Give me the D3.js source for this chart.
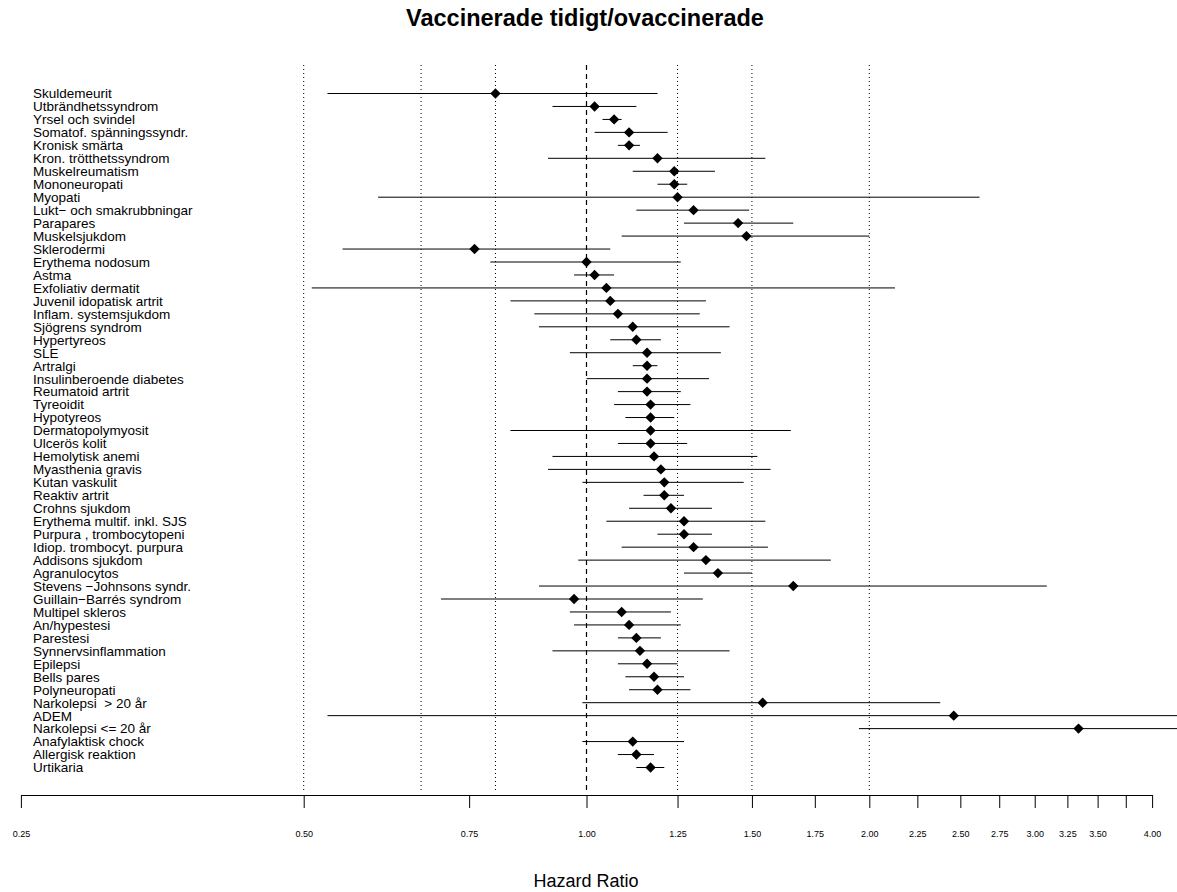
<!DOCTYPE html>
<html>
<head>
<meta charset="utf-8">
<script src="https://cdn.jsdelivr.net/npm/d3@7"></script>
<style>
  html, body { margin: 0; padding: 0; background: #fff; }
  svg { display: block; font-family: "Liberation Sans", Arial, sans-serif; }
  .row-label { white-space: pre; }
</style>
</head>
<body>
<svg id="chart" width="1177" height="892"></svg>
<script>
// Outcomes, top to bottom
const outcomes = [
  "Skuldemeurit", "Utbrändhetssyndrom", "Yrsel och svindel", "Somatof. spänningssyndr.",
  "Kronisk smärta", "Kron. trötthetssyndrom", "Muskelreumatism", "Mononeuropati",
  "Myopati", "Lukt− och smakrubbningar", "Parapares", "Muskelsjukdom", "Sklerodermi",
  "Erythema nodosum", "Astma", "Exfoliativ dermatit", "Juvenil idopatisk artrit",
  "Inflam. systemsjukdom", "Sjögrens syndrom", "Hypertyreos", "SLE", "Artralgi",
  "Insulinberoende diabetes", "Reumatoid artrit", "Tyreoidit", "Hypotyreos",
  "Dermatopolymyosit", "Ulcerös kolit", "Hemolytisk anemi", "Myasthenia gravis",
  "Kutan vaskulit", "Reaktiv artrit", "Crohns sjukdom", "Erythema multif. inkl. SJS",
  "Purpura , trombocytopeni", "Idiop. trombocyt. purpura", "Addisons sjukdom",
  "Agranulocytos", "Stevens −Johnsons syndr.", "Guillain−Barrés syndrom",
  "Multipel skleros", "An/hypestesi", "Parestesi", "Synnervsinflammation", "Epilepsi",
  "Bells pares", "Polyneuropati", "Narkolepsi  > 20 år", "ADEM", "Narkolepsi <= 20 år",
  "Anafylaktisk chock", "Allergisk reaktion", "Urtikaria"
];

// Hazard ratio point estimates
const hazardRatio = [
  0.80, 1.02, 1.07, 1.11, 1.11, 1.19, 1.24, 1.24, 1.25, 1.30, 1.45, 1.48, 0.76,
  1.00, 1.02, 1.05, 1.06, 1.08, 1.12, 1.13, 1.16, 1.16, 1.16, 1.16, 1.17, 1.17,
  1.17, 1.17, 1.18, 1.20, 1.21, 1.21, 1.23, 1.27, 1.27, 1.30, 1.34, 1.38, 1.66,
  0.97, 1.09, 1.11, 1.13, 1.14, 1.16, 1.18, 1.19, 1.54, 2.46, 3.34, 1.12, 1.13, 1.17
];

// Lower 95% confidence limits
const ciLower = [
  0.53, 0.92, 1.04, 1.02, 1.08, 0.91, 1.12, 1.19, 0.60, 1.13, 1.27, 1.09, 0.55,
  0.79, 0.97, 0.51, 0.83, 0.88, 0.89, 1.06, 0.96, 1.12, 1.00, 1.08, 1.07, 1.10,
  0.83, 1.08, 0.92, 0.91, 0.99, 1.15, 1.11, 1.05, 1.19, 1.09, 0.98, 1.27, 0.89,
  0.70, 0.96, 0.97, 1.08, 0.92, 1.08, 1.10, 1.11, 0.99, 0.53, 1.95, 0.99, 1.08, 1.13
];

// Upper 95% confidence limits (the widest ones run past the axis)
const ciUpper = [
  1.19, 1.13, 1.09, 1.22, 1.14, 1.55, 1.37, 1.28, 2.62, 1.49, 1.66, 2.00, 1.06,
  1.26, 1.07, 2.13, 1.34, 1.32, 1.42, 1.20, 1.39, 1.19, 1.35, 1.26, 1.29, 1.24,
  1.65, 1.28, 1.52, 1.57, 1.47, 1.27, 1.36, 1.55, 1.36, 1.56, 1.82, 1.50, 3.09,
  1.33, 1.23, 1.26, 1.20, 1.42, 1.25, 1.27, 1.29, 2.38, 6.00, 8.00, 1.27, 1.18, 1.21
];

// Axis tick values and their printed labels
const tickValues = [0.25, 0.5, 0.75, 1, 1.25, 1.5, 1.75, 2, 2.25, 2.5, 2.75, 3, 3.25, 3.5, 3.75, 4];
const tickLabels = ["0.25", "0.50", "0.75", "1.00", "1.25", "1.50", "1.75", "2.00", "2.25",
                    "2.50", "2.75", "3.00", "3.25", "3.50", "", "4.00"];

// Reference lines
const dottedRefs = [0.5, 2 / 3, 0.8, 1.25, 1.5, 2];
const dashedRef = 1;

const svg = d3.select("#chart");

const x = d3.scaleLog().base(2).domain([0.25, 4]).range([20.9, 1152.1]);
const y = d3.scalePoint().domain(d3.range(outcomes.length)).range([93.5, 767.5]);

const refTop = 65, refBottom = 791, axisY = 795;

// Title
svg.append("text")
  .attr("x", 585).attr("y", 26)
  .attr("text-anchor", "middle")
  .attr("font-size", 23.5).attr("font-weight", "bold")
  .text("Vaccinerade tidigt/ovaccinerade");

// Reference lines
svg.append("g").selectAll("line").data(dottedRefs).join("line")
  .attr("x1", d => x(d)).attr("x2", d => x(d))
  .attr("y1", refTop).attr("y2", refBottom)
  .attr("stroke", "#000").attr("stroke-width", 1)
  .attr("stroke-dasharray", "1,3");

svg.append("line")
  .attr("x1", x(dashedRef)).attr("x2", x(dashedRef))
  .attr("y1", refTop).attr("y2", refBottom)
  .attr("stroke", "#000").attr("stroke-width", 1.2)
  .attr("stroke-dasharray", "5,4");

// Row labels
svg.append("g").selectAll("text").data(outcomes).join("text")
  .attr("class", "row-label")
  .attr("x", 33).attr("y", (d, i) => y(i))
  .attr("dy", "0.36em")
  .attr("font-size", 13.5)
  .attr("fill", "#000")
  .text(d => d);

// Confidence intervals
svg.append("g").selectAll("line").data(outcomes).join("line")
  .attr("x1", (d, i) => x(ciLower[i])).attr("x2", (d, i) => x(ciUpper[i]))
  .attr("y1", (d, i) => y(i)).attr("y2", (d, i) => y(i))
  .attr("stroke", "#000").attr("stroke-width", 1);

// Point estimates as diamonds
const s = 5.2;
svg.append("g").selectAll("path").data(outcomes).join("path")
  .attr("transform", (d, i) => `translate(${x(hazardRatio[i])},${y(i)})`)
  .attr("d", `M0,${-s}L${s},0L0,${s}L${-s},0Z`)
  .attr("fill", "#000");

// Hazard ratio axis
const axis = d3.axisBottom(x)
  .tickValues(tickValues)
  .tickFormat((d, i) => tickLabels[i])
  .tickSize(13)
  .tickSizeOuter(0)
  .tickPadding(23);

const gAxis = svg.append("g").attr("transform", `translate(0,${axisY})`).call(axis);
gAxis.select(".domain").attr("stroke", "#000").attr("stroke-width", 1);
gAxis.selectAll(".tick line").attr("stroke", "#000");
gAxis.selectAll(".tick text")
  .attr("font-size", 9).attr("fill", "#000")
  .attr("font-family", "Liberation Sans, Arial, sans-serif");

svg.append("text")
  .attr("x", 586).attr("y", 887)
  .attr("text-anchor", "middle")
  .attr("font-size", 18)
  .text("Hazard Ratio");
</script>
</body>
</html>
